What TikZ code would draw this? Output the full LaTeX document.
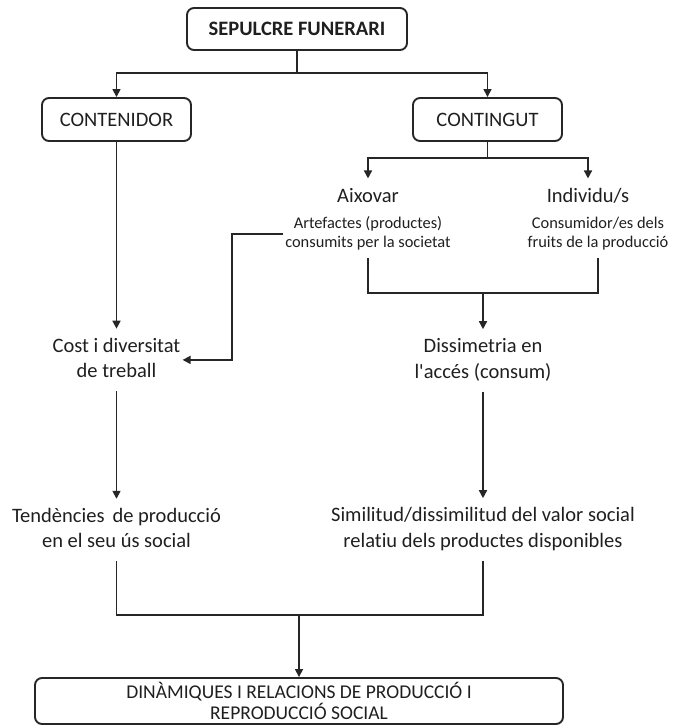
\documentclass[tikz,border=0pt]{standalone}
\usepackage{fontspec}
\setmainfont{Carlito}[Ligatures=NoCommon]
\usetikzlibrary{arrows.meta}
\newcommand\mainsz{\fontsize{20.5}{25.5}\selectfont}
\newcommand\subsz{\fontsize{16.4}{19}\selectfont}
\newcommand\botsz{\fontsize{19.5}{21.5}\selectfont}
\begin{document}
\begin{tikzpicture}[x=1pt,y=-1pt,
  boxnode/.style={draw=black!85, line width=1.9pt, rounded corners=7pt, inner sep=0pt,
    align=center, text=black!88},
  lbl/.style={font=\mainsz, align=center, inner xsep=2pt, inner ysep=5.5pt, text=black!88},
  sublbl/.style={font=\subsz, align=center, inner xsep=2pt, inner ysep=5pt, text=black!88},
  conn/.style={line width=1.6pt, draw=black!85},
  arr/.style={conn, -{Triangle[length=8pt,width=8pt]}}]
\useasboundingbox (0,0) rectangle (674,725);

% boxes
\node[boxnode, font=\mainsz\bfseries, minimum width=220pt, minimum height=42pt] (top) at (297,29) {SEPULCRE FUNERARI};
\node[boxnode, font=\mainsz, minimum width=149pt, minimum height=43pt] (contenidor) at (116.5,119.5) {CONTENIDOR};
\node[boxnode, font=\mainsz, minimum width=149pt, minimum height=43pt] (contingut) at (487.5,119.5) {CONTINGUT};
\node[boxnode, font=\botsz, minimum width=528pt, minimum height=46pt] (final) at (299,701)
  {DINÀMIQUES I RELACIONS DE PRODUCCIÓ I\\REPRODUCCIÓ SOCIAL};

% text labels
\node[lbl] (aix) at (368,196.9) {\strut Aixovar};
\node[sublbl] (aixsub) at (368,233.7) {\strut Artefactes (productes)\\\strut consumits per la societat};
\node[lbl] (ind) at (588,196.9) {\strut Individu/s};
\node[sublbl] (indsub) at (598,233.7) {\strut Consumidor/es dels\\\strut fruits de la producció};
\node[lbl] (cost) at (116.5,359.9) {\strut Cost i diversitat\\\strut de treball};
\node[lbl] (diss) at (483,360.4) {\strut Dissimetria en\\\strut l\textquotesingle accés (consum)};
\node[lbl] (tend) at (116.5,530) {\strut Tendències\, de producció\\\strut en el seu ús social};
\node[lbl] (simil) at (483,529.4) {\strut Similitud/dissimilitud del valor social\\\strut relatiu dels productes disponibles};

% junction coordinates
\coordinate (j1) at (297,73);
\coordinate (j2) at (487.5,158);
\coordinate (j3) at (483,293);
\coordinate (j4) at (299,615);
\coordinate (b1) at (232,233.7);

% connectors
\draw[conn] (top.south) -- (j1);
\draw[arr] (j1) -| (contenidor.north);
\draw[arr] (j1) -| (contingut.north);
\draw[conn] (contingut.south) -- (j2);
\draw[arr] (j2) -| (aix.north);
\draw[arr] (j2) -| (ind.north);
\draw[arr] (contenidor.south) -- (contenidor.south |- cost.north);
\draw[arr] (aixsub.west) -- (b1) |- (cost.east);
\draw[conn] (aixsub.south) |- (j3);
\draw[conn] (indsub.south) |- (j3);
\draw[arr] (j3) -- (diss.north);
\draw[arr] (cost.south) -- (tend.north);
\draw[arr] (diss.south) -- (simil.north);
\draw[conn] (tend.south) |- (j4);
\draw[conn] (simil.south) |- (j4);
\draw[arr] (j4) -- (final.north);
\end{tikzpicture}
\end{document}
